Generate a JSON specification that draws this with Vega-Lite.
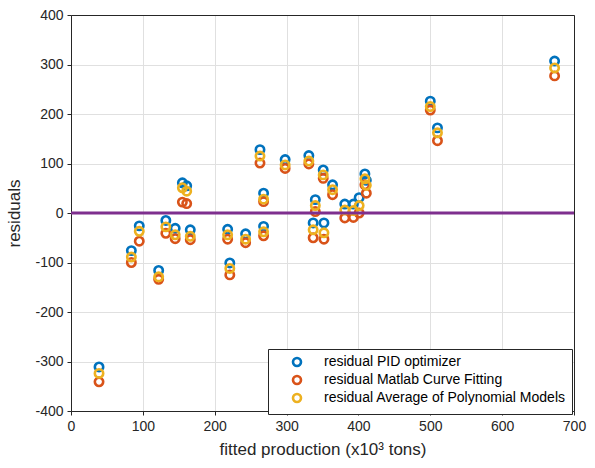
{
  "$schema": "https://vega.github.io/schema/vega-lite/v6.json",
  "autosize": "none",
  "padding": {"left": 71, "top": 15, "right": 21, "bottom": 57},
  "width": 503,
  "height": 396,
  "background": "white",
  "config": {
    "font": "Liberation Sans",
    "view": {"stroke": "#262626", "strokeWidth": 1},
    "axis": {
      "labelFont": "Liberation Sans",
      "titleFont": "Liberation Sans",
      "labelColor": "#262626",
      "titleColor": "#262626",
      "labelFontSize": 14,
      "titleFontSize": 17,
      "titleFontWeight": "normal",
      "labelFlush": false,
      "labelOverlap": false,
      "domainColor": "#262626",
      "tickColor": "#262626",
      "gridColor": "#e0e0e0",
      "tickSize": 4,
      "tickWidth": 1,
      "domainWidth": 1,
      "zindex": 1
    }
  },
  "datasets": {
    "pts": [
      {"x": 39, "residual": -311, "series": "residual PID optimizer"},
      {"x": 84, "residual": -76, "series": "residual PID optimizer"},
      {"x": 95, "residual": -26, "series": "residual PID optimizer"},
      {"x": 122, "residual": -116, "series": "residual PID optimizer"},
      {"x": 132, "residual": -15, "series": "residual PID optimizer"},
      {"x": 145, "residual": -31, "series": "residual PID optimizer"},
      {"x": 155, "residual": 61, "series": "residual PID optimizer"},
      {"x": 161, "residual": 55, "series": "residual PID optimizer"},
      {"x": 166, "residual": -34, "series": "residual PID optimizer"},
      {"x": 218, "residual": -33, "series": "residual PID optimizer"},
      {"x": 221, "residual": -101, "series": "residual PID optimizer"},
      {"x": 243, "residual": -42, "series": "residual PID optimizer"},
      {"x": 263, "residual": 128, "series": "residual PID optimizer"},
      {"x": 268, "residual": 40, "series": "residual PID optimizer"},
      {"x": 268, "residual": -27, "series": "residual PID optimizer"},
      {"x": 298, "residual": 108, "series": "residual PID optimizer"},
      {"x": 331, "residual": 116, "series": "residual PID optimizer"},
      {"x": 351, "residual": 87, "series": "residual PID optimizer"},
      {"x": 364, "residual": 57, "series": "residual PID optimizer"},
      {"x": 340, "residual": 27, "series": "residual PID optimizer"},
      {"x": 337, "residual": -20, "series": "residual PID optimizer"},
      {"x": 352, "residual": -20, "series": "residual PID optimizer"},
      {"x": 381, "residual": 18, "series": "residual PID optimizer"},
      {"x": 393, "residual": 18, "series": "residual PID optimizer"},
      {"x": 401, "residual": 31, "series": "residual PID optimizer"},
      {"x": 409, "residual": 79, "series": "residual PID optimizer"},
      {"x": 411, "residual": 66, "series": "residual PID optimizer"},
      {"x": 500, "residual": 226, "series": "residual PID optimizer"},
      {"x": 510, "residual": 172, "series": "residual PID optimizer"},
      {"x": 673, "residual": 307, "series": "residual PID optimizer"},

      {"x": 39, "residual": -341, "series": "residual Matlab Curve Fitting"},
      {"x": 84, "residual": -100, "series": "residual Matlab Curve Fitting"},
      {"x": 95, "residual": -57, "series": "residual Matlab Curve Fitting"},
      {"x": 122, "residual": -134, "series": "residual Matlab Curve Fitting"},
      {"x": 132, "residual": -41, "series": "residual Matlab Curve Fitting"},
      {"x": 145, "residual": -52, "series": "residual Matlab Curve Fitting"},
      {"x": 155, "residual": 22, "series": "residual Matlab Curve Fitting"},
      {"x": 161, "residual": 19, "series": "residual Matlab Curve Fitting"},
      {"x": 166, "residual": -54, "series": "residual Matlab Curve Fitting"},
      {"x": 218, "residual": -53, "series": "residual Matlab Curve Fitting"},
      {"x": 221, "residual": -125, "series": "residual Matlab Curve Fitting"},
      {"x": 243, "residual": -60, "series": "residual Matlab Curve Fitting"},
      {"x": 263, "residual": 101, "series": "residual Matlab Curve Fitting"},
      {"x": 268, "residual": 23, "series": "residual Matlab Curve Fitting"},
      {"x": 268, "residual": -46, "series": "residual Matlab Curve Fitting"},
      {"x": 298, "residual": 90, "series": "residual Matlab Curve Fitting"},
      {"x": 331, "residual": 99, "series": "residual Matlab Curve Fitting"},
      {"x": 351, "residual": 70, "series": "residual Matlab Curve Fitting"},
      {"x": 364, "residual": 37, "series": "residual Matlab Curve Fitting"},
      {"x": 340, "residual": 3, "series": "residual Matlab Curve Fitting"},
      {"x": 337, "residual": -50, "series": "residual Matlab Curve Fitting"},
      {"x": 352, "residual": -53, "series": "residual Matlab Curve Fitting"},
      {"x": 381, "residual": -10, "series": "residual Matlab Curve Fitting"},
      {"x": 393, "residual": -9, "series": "residual Matlab Curve Fitting"},
      {"x": 401, "residual": 0, "series": "residual Matlab Curve Fitting"},
      {"x": 409, "residual": 57, "series": "residual Matlab Curve Fitting"},
      {"x": 411, "residual": 40, "series": "residual Matlab Curve Fitting"},
      {"x": 500, "residual": 208, "series": "residual Matlab Curve Fitting"},
      {"x": 510, "residual": 146, "series": "residual Matlab Curve Fitting"},
      {"x": 673, "residual": 277, "series": "residual Matlab Curve Fitting"},

      {"x": 39, "residual": -324, "series": "residual Average of Polynomial Models"},
      {"x": 84, "residual": -89, "series": "residual Average of Polynomial Models"},
      {"x": 95, "residual": -37, "series": "residual Average of Polynomial Models"},
      {"x": 122, "residual": -129, "series": "residual Average of Polynomial Models"},
      {"x": 132, "residual": -28, "series": "residual Average of Polynomial Models"},
      {"x": 145, "residual": -44, "series": "residual Average of Polynomial Models"},
      {"x": 155, "residual": 51, "series": "residual Average of Polynomial Models"},
      {"x": 161, "residual": 44, "series": "residual Average of Polynomial Models"},
      {"x": 166, "residual": -47, "series": "residual Average of Polynomial Models"},
      {"x": 218, "residual": -44, "series": "residual Average of Polynomial Models"},
      {"x": 221, "residual": -112, "series": "residual Average of Polynomial Models"},
      {"x": 243, "residual": -53, "series": "residual Average of Polynomial Models"},
      {"x": 263, "residual": 115, "series": "residual Average of Polynomial Models"},
      {"x": 268, "residual": 28, "series": "residual Average of Polynomial Models"},
      {"x": 268, "residual": -38, "series": "residual Average of Polynomial Models"},
      {"x": 298, "residual": 97, "series": "residual Average of Polynomial Models"},
      {"x": 331, "residual": 105, "series": "residual Average of Polynomial Models"},
      {"x": 351, "residual": 77, "series": "residual Average of Polynomial Models"},
      {"x": 364, "residual": 47, "series": "residual Average of Polynomial Models"},
      {"x": 340, "residual": 15, "series": "residual Average of Polynomial Models"},
      {"x": 337, "residual": -34, "series": "residual Average of Polynomial Models"},
      {"x": 352, "residual": -40, "series": "residual Average of Polynomial Models"},
      {"x": 381, "residual": 6, "series": "residual Average of Polynomial Models"},
      {"x": 393, "residual": 5, "series": "residual Average of Polynomial Models"},
      {"x": 401, "residual": 15, "series": "residual Average of Polynomial Models"},
      {"x": 409, "residual": 69, "series": "residual Average of Polynomial Models"},
      {"x": 411, "residual": 56, "series": "residual Average of Polynomial Models"},
      {"x": 500, "residual": 215, "series": "residual Average of Polynomial Models"},
      {"x": 510, "residual": 162, "series": "residual Average of Polynomial Models"},
      {"x": 673, "residual": 293, "series": "residual Average of Polynomial Models"}
    ]
  },
  "layer": [
    {
      "data": {"name": "pts"},
      "mark": {"type": "point", "filled": false, "strokeWidth": 2.6, "size": 70, "opacity": 1},
      "encoding": {
        "x": {
          "field": "x", "type": "quantitative",
          "scale": {"domain": [0, 700], "nice": false, "zero": false},
          "axis": {"title": "fitted production (x10³ tons)", "values": [0,100,200,300,400,500,600,700], "grid": true, "labelPadding": 4, "titlePadding": 8}
        },
        "y": {
          "field": "residual", "type": "quantitative",
          "scale": {"domain": [-400, 400], "nice": false},
          "axis": {"title": "residuals", "values": [-400,-300,-200,-100,0,100,200,300,400], "grid": true, "labelPadding": 4, "titlePadding": 11, "labelExpr": "toString(datum.value)"}
        },
        "color": {
          "field": "series", "type": "nominal",
          "scale": {
            "domain": ["residual PID optimizer", "residual Matlab Curve Fitting", "residual Average of Polynomial Models"],
            "range": ["#0072BD", "#D95319", "#EDB120"]
          },
          "legend": {
            "title": null,
            "orient": "none",
            "legendX": 197,
            "legendY": 334,
            "direction": "vertical",
            "fillColor": "white",
            "strokeColor": "#262626",
            "padding": 6,
            "labelFont": "Liberation Sans",
            "labelFontSize": 14,
            "labelColor": "#000000",
            "labelLimit": 400,
            "labelOffset": 20,
            "symbolType": "circle",
            "symbolFillColor": "transparent",
            "symbolStrokeWidth": 2.6,
            "symbolSize": 64,
            "symbolOffset": 16,
            "rowPadding": -2,
            "zindex": 2
          }
        }
      }
    },
    {
      "data": {"values": [{"x": 0, "y": 0}]},
      "mark": {"type": "point", "opacity": 0},
      "encoding": {
        "x": {"field": "x", "type": "quantitative", "axis": {"orient": "top", "labels": false, "title": null, "grid": false, "tickSize": 0, "values": [0,100,200,300,400,500,600,700]}},
        "y": {"field": "y", "type": "quantitative", "axis": {"orient": "right", "labels": false, "title": null, "grid": false, "tickSize": 0, "values": [-400,-300,-200,-100,0,100,200,300,400]}}
      }
    },
    {
      "mark": {"type": "rule", "strokeWidth": 3, "color": "#7E2F8E"},
      "data": {"values": [{"zero": 0}]},
      "encoding": {
        "y": {"field": "zero", "type": "quantitative", "axis": null}
      }
    }
  ],
  "resolve": {"axis": {"x": "independent", "y": "independent"}}
}
